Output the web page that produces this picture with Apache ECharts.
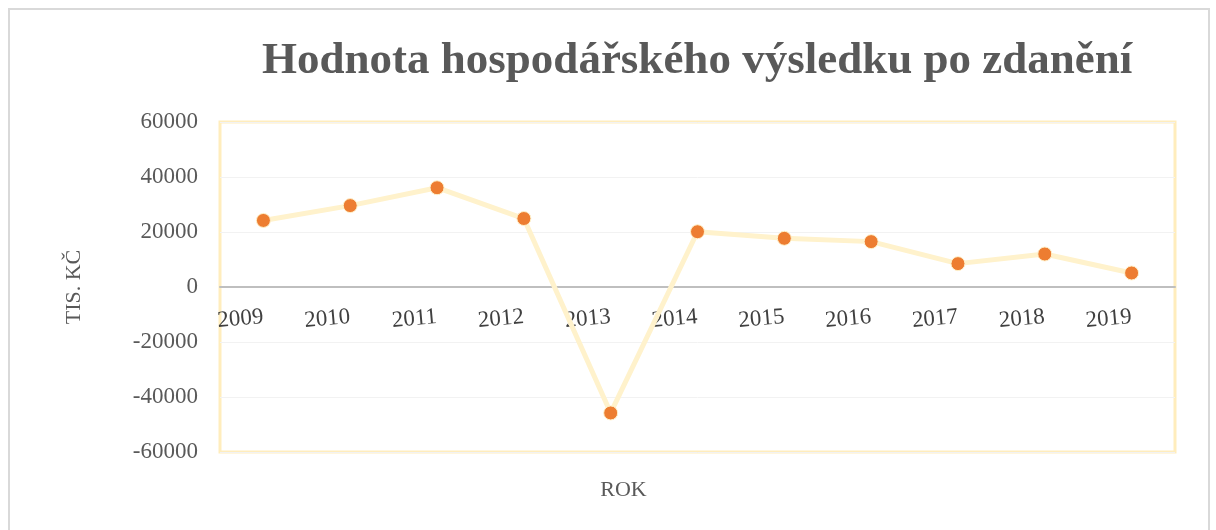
<!DOCTYPE html>
<html lang="cs">
<head>
<meta charset="UTF-8">
<title>Hodnota hospodářského výsledku po zdanění</title>
<style>
  html, body { margin: 0; padding: 0; background: #fff; }
  #main { width: 1216px; height: 530px; }
</style>
</head>
<body>
<div id="main"></div>
<script src="https://cdn.jsdelivr.net/npm/echarts@6/dist/echarts.min.js"></script>
<script>
var years = ['2009', '2010', '2011', '2012', '2013', '2014', '2015', '2016', '2017', '2018', '2019'];
var profit = [24200, 29600, 36100, 24900, -45800, 20100, 17700, 16500, 8500, 12000, 5100];
var yTicks = { min: -60000, max: 60000, interval: 20000 };

var serif = '"Liberation Serif", "DejaVu Serif", serif';
var textGray = '#595959';

// plot area: top 122, height 330 -> zero line sits 165px above the bottom edge
var chart = echarts.init(document.getElementById('main'));
var option = {
    animation: false,
    backgroundColor: '#fff',
    title: {
        text: 'Hodnota hospodářského výsledku po zdanění',
        left: 257,
        top: 34,
        textStyle: { fontFamily: serif, fontSize: 45, fontWeight: 'bold', color: textGray }
    },
    graphic: [{
        type: 'rect',
        shape: { x: 9, y: 9, width: 1200, height: 540 },
        style: { fill: 'none', stroke: '#D9D9D9', lineWidth: 2 },
        silent: true
    }],
    grid: {
        left: 220, right: 41, top: 122, bottom: 78,
        outerBoundsMode: 'none',
        containLabel: false,
        show: true, borderColor: '#FFEDBD', borderWidth: 3
    },
    xAxis: {
        type: 'category',
        data: years,
        offset: -165,
        name: 'ROK',
        nameLocation: 'middle',
        nameGap: 192,
        nameTextStyle: { fontFamily: serif, fontSize: 22, color: textGray, padding: [0, 148, 0, 0] },
        axisLine: { onZero: false, lineStyle: { color: '#BFBFBF', width: 2 } },
        axisTick: { show: false },
        axisLabel: { rotate: 5, margin: 30, fontFamily: serif, fontSize: 23, color: '#404040' }
    },
    yAxis: {
        type: 'value',
        min: yTicks.min,
        max: yTicks.max,
        interval: yTicks.interval,
        name: 'TIS. KČ',
        nameLocation: 'middle',
        nameRotate: 90,
        nameGap: 135,
        nameTextStyle: { fontFamily: serif, fontSize: 22, color: textGray },
        axisLine: { show: false },
        axisTick: { show: false },
        axisLabel: {
            margin: 22, fontFamily: serif, fontSize: 23, color: textGray,
            formatter: function (v) { return String(v); }
        },
        splitLine: { lineStyle: { color: '#F2F2F2', width: 1 } }
    },
    series: [{
        type: 'line',
        data: profit,
        lineStyle: { color: '#FFF2CC', width: 5 },
        symbol: 'circle',
        symbolSize: 14,
        itemStyle: { color: '#ED7D31', borderColor: '#FFF2CC', borderWidth: 1 }
    }]
};
chart.setOption(option);
</script>
</body>
</html>
